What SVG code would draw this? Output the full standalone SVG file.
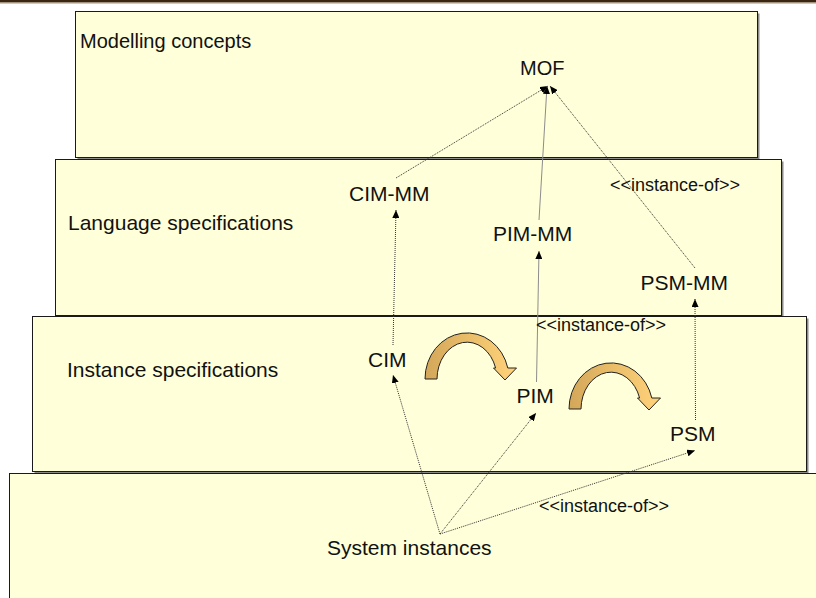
<svg xmlns="http://www.w3.org/2000/svg" width="816" height="598" viewBox="0 0 816 598">
<style>
.box{fill:#FFFFD9;stroke:#1a1a1a;stroke-width:1}
.shadow{fill:#8a8a8a}
.t{font-family:"Liberation Sans",Arial,sans-serif;fill:#111}
.big{font-size:21px}
.lbl{font-size:18px}
.c{fill:none;stroke:#333;stroke-width:1;stroke-dasharray:1 1}
.g{fill:none;stroke:#8c8c8c;stroke-width:1}
.arc{fill:url(#og);stroke:#222;stroke-width:1}
</style>
<defs>
<marker id="ah" markerUnits="userSpaceOnUse" markerWidth="8" markerHeight="7" refX="8" refY="3.5" orient="auto">
<path d="M0,0 L8,3.5 L0,7 Z" fill="#000"/>
</marker>
<linearGradient id="og" x1="0" y1="0" x2="1" y2="0">
<stop offset="0" stop-color="#D3A75A"/>
<stop offset="0.45" stop-color="#E9BC68"/>
<stop offset="1" stop-color="#FFD27A"/>
</linearGradient>
<path id="carrow" d="M425,379 A42,46 0 0 1 507.8,368 L516.5,368 L505,380 L493.5,368 L495.6,368 A30,37 0 0 0 437,379 Z"/>
</defs>
<rect width="816" height="598" fill="#fff"/>
<rect x="0" y="0" width="816" height="2.5" fill="#3b2612"/>
<rect x="0" y="2.5" width="816" height="1" fill="#a89478"/>

<g id="layer-modelling">
<rect class="shadow" x="77.5" y="13.5" width="682" height="146"/>
<rect class="box" x="75.5" y="11.5" width="682" height="146"/>
<text class="t" x="80" y="48" font-size="20">Modelling concepts</text>
</g>
<g id="layer-language">
<rect class="shadow" x="57.5" y="161.5" width="726" height="156"/>
<rect class="box" x="55.5" y="159.5" width="726" height="156"/>
<text class="t big" x="68" y="230">Language specifications</text>
</g>
<g id="layer-instance">
<rect class="shadow" x="34.5" y="318.5" width="774" height="155"/>
<rect class="box" x="32.5" y="316.5" width="774" height="155"/>
<text class="t big" x="67" y="377">Instance specifications</text>
</g>
<g id="layer-system">
<rect class="box" x="9.5" y="473.5" width="820" height="140"/>
</g>

<g id="transform-arrows">
<use href="#carrow" class="arc"/>
<use href="#carrow" class="arc" transform="translate(144,30)"/>
</g>

<g id="connectors">
<line class="c" x1="396" y1="178" x2="548" y2="86" marker-end="url(#ah)"/>
<line class="g" x1="539" y1="220" x2="547" y2="86" marker-end="url(#ah)"/>
<line class="c" x1="695" y1="268" x2="550" y2="86" marker-end="url(#ah)"/>
<line class="c" x1="393" y1="345" x2="396" y2="210" marker-end="url(#ah)"/>
<line class="g" x1="536.5" y1="382" x2="539" y2="251" marker-end="url(#ah)"/>
<line class="c" x1="695.5" y1="420" x2="695" y2="299" marker-end="url(#ah)"/>
<line class="c" x1="440" y1="534" x2="393" y2="375" marker-end="url(#ah)"/>
<line class="c" x1="440" y1="534" x2="536" y2="413" marker-end="url(#ah)"/>
<line class="c" x1="440" y1="534" x2="695" y2="450.5" marker-end="url(#ah)"/>
</g>

<g id="node-MOF"><text class="t" x="520" y="75" font-size="20">MOF</text></g>
<g id="node-CIM-MM"><text class="t big" x="349" y="200.5">CIM-MM</text></g>
<g id="node-PIM-MM"><text class="t big" x="493" y="240.5">PIM-MM</text></g>
<g id="node-PSM-MM"><text class="t big" x="640.5" y="290">PSM-MM</text></g>
<g id="node-CIM"><text class="t big" x="368" y="366.5">CIM</text></g>
<g id="node-PIM"><text class="t big" x="516.5" y="403">PIM</text></g>
<g id="node-PSM"><text class="t big" x="670" y="440.5">PSM</text></g>
<g id="node-system"><text class="t big" x="327" y="555">System instances</text></g>

<g id="labels">
<text class="t lbl" x="610" y="191">&lt;&lt;instance-of&gt;&gt;</text>
<text class="t lbl" x="536" y="331">&lt;&lt;instance-of&gt;&gt;</text>
<text class="t lbl" x="539" y="512">&lt;&lt;instance-of&gt;&gt;</text>
</g>
</svg>
